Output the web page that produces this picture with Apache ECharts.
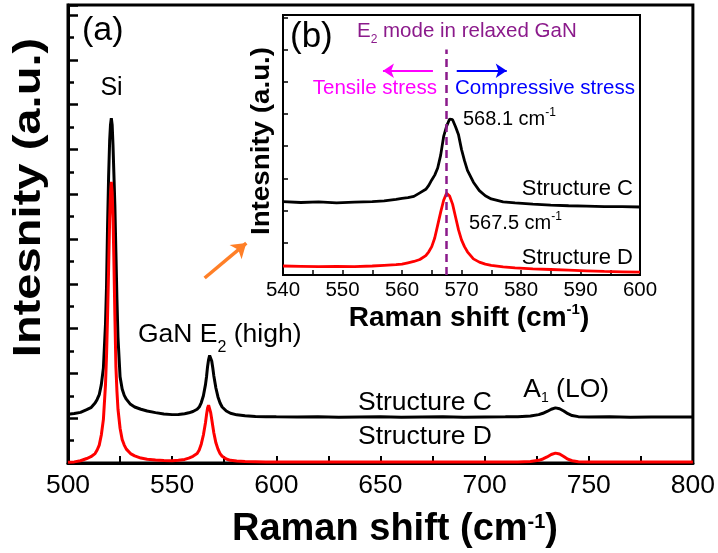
<!DOCTYPE html>
<html>
<head>
<meta charset="utf-8">
<script src="https://cdn.jsdelivr.net/npm/echarts/dist/echarts.min.js"></script>
<style>
  html, body { margin: 0; padding: 0; background: #fff; }
  #chart { width: 718px; height: 553px; }
</style>
</head>
<body>
<div id="chart"></div>
<script>
// ---------- panel (a): full Raman spectra ----------
const shiftA = [
  500, 503, 506, 509, 511, 513, 514, 515, 516, 517,
  518, 518.5, 519, 519.5, 520, 520.4, 520.8, 521.2, 521.6, 522,
  522.5, 523, 523.5, 524, 525, 526, 527, 528, 530, 532,
  535, 538, 542, 546, 550, 553, 556, 558, 560, 562,
  563, 564, 565, 566, 566.5, 567, 567.5, 568, 568.5, 569,
  569.5, 570, 571, 572, 573, 574, 576, 578, 581, 585,
  590, 595, 600, 610, 620, 630, 640, 650, 660, 670,
  680, 690, 700, 710, 716, 722, 726, 728, 730, 732,
  734, 736, 738, 740, 742, 745, 750, 760, 770, 780,
  790, 800
];
const structCA = [
  2.18, 2.21, 2.26, 2.38, 2.47, 2.68, 2.84, 3.05, 3.50, 4.25,
  6.20, 7.90, 10.6, 12.8, 14.4, 15.1, 15.4, 15.1, 14.2, 13.0,
  11.5, 9.4, 7.3, 5.6, 3.85, 3.30, 3.02, 2.85, 2.62, 2.50,
  2.40, 2.32, 2.25, 2.19, 2.16, 2.17, 2.20, 2.24, 2.30, 2.40,
  2.50, 2.70, 3.00, 3.50, 3.85, 4.30, 4.62, 4.80, 4.75, 4.55,
  4.25, 3.90, 3.35, 2.95, 2.68, 2.50, 2.32, 2.22, 2.15, 2.11,
  2.08, 2.07, 2.06, 2.05, 2.06, 2.04, 2.05, 2.06, 2.04, 2.05,
  2.06, 2.04, 2.05, 2.06, 2.07, 2.10, 2.16, 2.22, 2.30, 2.40,
  2.46, 2.42, 2.32, 2.20, 2.12, 2.07, 2.05, 2.06, 2.04, 2.05,
  2.05, 2.05
];
const structDA = [
  0.03, 0.05, 0.10, 0.20, 0.28, 0.42, 0.58, 0.80, 1.25, 1.95,
  3.50, 4.80, 6.60, 8.70, 10.9, 12.0, 12.55, 12.1, 11.0, 9.2,
  6.6, 4.3, 3.2, 2.4, 1.55, 1.05, 0.80, 0.62, 0.42, 0.32,
  0.22, 0.17, 0.13, 0.11, 0.10, 0.12, 0.16, 0.22, 0.30, 0.42,
  0.58, 0.85, 1.25, 1.80, 2.15, 2.45, 2.58, 2.50, 2.25, 1.95,
  1.65, 1.35, 0.90, 0.62, 0.42, 0.30, 0.18, 0.12, 0.09, 0.07,
  0.06, 0.05, 0.05, 0.04, 0.05, 0.04, 0.05, 0.04, 0.05, 0.04,
  0.05, 0.05, 0.04, 0.05, 0.05, 0.07, 0.12, 0.18, 0.27, 0.38,
  0.44, 0.40, 0.29, 0.17, 0.10, 0.06, 0.05, 0.04, 0.05, 0.04,
  0.05, 0.04
];
const ticksA = [500, 550, 600, 650, 700, 750, 800];
const intensityMaxA = 20.45;

// ---------- panel (b): zoom on the GaN E2(high) mode ----------
const shiftB = [
  540, 543, 546, 549, 552, 555, 557, 559, 560, 561,
  562, 563, 564, 564.5, 565, 565.5, 566, 566.5, 567, 567.5,
  568, 568.1, 568.5, 569, 569.5, 570, 570.5, 571, 572, 573,
  574, 575, 577, 579, 582, 585, 588, 591, 594, 597,
  600
];
const structCB = [
  2.28, 2.25, 2.27, 2.24, 2.26, 2.28, 2.30, 2.35, 2.38, 2.40,
  2.44, 2.55, 2.66, 2.78, 2.95, 3.10, 3.32, 3.72, 4.30, 4.62,
  4.84, 4.87, 4.82, 4.60, 4.35, 3.90, 3.55, 3.25, 2.88, 2.62,
  2.46, 2.36, 2.27, 2.24, 2.20, 2.17, 2.15, 2.14, 2.12, 2.12,
  2.11
];
const structDB = [
  0.28, 0.27, 0.26, 0.27, 0.26, 0.28, 0.30, 0.32, 0.34, 0.38,
  0.42, 0.48, 0.60, 0.72, 0.88, 1.15, 1.55, 1.95, 2.32, 2.54,
  2.45, 2.41, 2.20, 1.80, 1.40, 1.09, 0.88, 0.72, 0.50, 0.40,
  0.34, 0.30, 0.25, 0.22, 0.19, 0.17, 0.15, 0.13, 0.11, 0.10,
  0.09
];
const ticksB = [540, 550, 560, 570, 580, 590, 600];
const intensityMaxB = 8.07;

// reference position of the relaxed-GaN E2 mode and annotation anchors
const relaxedE2 = 567.5;
const relaxedLineTop = 7.0;
const tensileArrow = [[565.2, 6.34], [556.8, 6.34]];
const compressiveArrow = [[569.2, 6.34], [577.6, 6.34]];
const zoomArrow = [[565.6, 8.26], [585.6, 9.82]];

const FONT = '"Liberation Sans", Arial, Helvetica, sans-serif';
const toPairs = (xs, ys) => xs.map((x, i) => [x, ys[i]]);

// ---------- text helpers (runs of text with sub/superscripts) ----------
const measureCtx = document.createElement('canvas').getContext('2d');
function textWidth(str, size, weight) {
  measureCtx.font = weight + ' ' + size + 'px ' + FONT;
  return measureCtx.measureText(str).width;
}
function label(x, yc, align, parts, color, weight) {
  weight = weight || 'normal';
  const widths = parts.map(p => textWidth(p[0], p[1], weight));
  const total = widths.reduce((a, b) => a + b, 0);
  let cx = align === 'left' ? x : (align === 'right' ? x - total : x - total / 2);
  const children = parts.map((p, i) => {
    const el = {
      type: 'text', x: cx, y: yc + (p[2] || 0),
      style: {
        text: p[0], fontSize: p[1], fontFamily: FONT, fontWeight: weight,
        fill: color, textAlign: 'left', textVerticalAlign: 'middle', verticalAlign: 'middle'
      }
    };
    cx += widths[i];
    return el;
  });
  return { type: 'group', silent: true, children: children };
}
function verticalTitle(x, y, text, size, stretch) {
  return {
    type: 'text', x: x, y: y, rotation: Math.PI / 2, scaleX: stretch, silent: true,
    style: {
      text: text, fontSize: size, fontFamily: FONT, fontWeight: 'bold', fill: '#000',
      textAlign: 'center', textVerticalAlign: 'middle', verticalAlign: 'middle'
    }
  };
}

const black = '#000000';
const red = '#ff0000';
const purple = '#8b1a8b';

const texts = [
  label(82, 31, 'left', [['(a)', 34]], black),
  label(111.5, 88.3, 'center', [['Si', 25]], black),
  label(138, 334.4, 'left', [['GaN E', 26.5], ['2', 16, 13.4], [' (high)', 26.5]], black),
  label(492, 402.6, 'right', [['Structure C', 26.5]], black),
  label(492, 436.9, 'right', [['Structure D', 26.5]], black),
  label(523.3, 389.4, 'left', [['A', 26.5], ['1', 14, 9], [' (LO)', 26.5]], black),
  label(395, 529.8, 'center', [['Raman shift (cm', 38], ['-1', 20, -7.4], [')', 38]], black, 'bold'),
  verticalTitle(30, 197.5, 'Intesnity (a.u.)', 38, 1.24),

  label(290, 37.5, 'left', [['(b)', 35]], black),
  label(357, 31.4, 'left', [['E', 20.5], ['2', 12, 8.6], [' mode in relaxed GaN', 20.5]], purple),
  label(437, 88.1, 'right', [['Tensile stress', 20.5]], '#ff00ff'),
  label(455, 88.1, 'left', [['Compressive stress', 20.5]], '#0000ff'),
  label(463, 119.8, 'left', [['568.1 cm', 20], ['-1', 12, -6.9]], black),
  label(469, 223.1, 'left', [['567.5 cm', 20], ['-1', 12, -6.9]], black),
  label(633, 188.7, 'right', [['Structure C', 22]], black),
  label(633, 257.7, 'right', [['Structure D', 22]], black),
  label(469, 318.3, 'center', [['Raman shift (cm', 28], ['-1', 15, -8.8], [')', 28]], black, 'bold'),
  verticalTitle(262, 141, 'Intesnity (a.u.)', 25, 1.11)
];

const axisLine = w => ({ show: true, onZero: false, lineStyle: { color: '#000', width: w } });

const option = {
  animation: false,
  backgroundColor: '#fff',
  grid: [
    { left: 68, top: 5, width: 627, height: 458, show: true, borderColor: '#000', borderWidth: 3, backgroundColor: 'transparent' },
    { left: 283, top: 15, width: 357, height: 260, show: true, borderColor: '#000', borderWidth: 2, backgroundColor: '#fff' }
  ],
  xAxis: [
    {
      gridIndex: 0, type: 'value',
      min: ticksA[0], max: ticksA[ticksA.length - 1], interval: ticksA[1] - ticksA[0],
      axisLine: axisLine(3),
      axisTick: { show: true, inside: true, length: 7, lineStyle: { color: '#000', width: 2 } },
      minorTick: { show: true, splitNumber: 2, length: 7, lineStyle: { color: '#000', width: 2 } },
      axisLabel: { show: true, margin: 9, fontSize: 26.5, color: '#000', fontFamily: FONT },
      splitLine: { show: false }, minorSplitLine: { show: false }
    },
    {
      gridIndex: 1, type: 'value',
      min: ticksB[0], max: ticksB[ticksB.length - 1], interval: ticksB[1] - ticksB[0],
      axisLine: axisLine(2),
      axisTick: { show: true, inside: true, length: 5, lineStyle: { color: '#000', width: 1.5 } },
      minorTick: { show: true, splitNumber: 2, length: 5, lineStyle: { color: '#000', width: 1.5 } },
      axisLabel: { show: true, margin: 5, fontSize: 20.5, color: '#000', fontFamily: FONT },
      splitLine: { show: false }, minorSplitLine: { show: false }
    }
  ],
  yAxis: [
    {
      gridIndex: 0, type: 'value', min: 0, max: intensityMaxA, interval: 2,
      axisLine: axisLine(3),
      axisTick: { show: true, inside: true, length: 10, lineStyle: { color: '#000', width: 2.5 } },
      axisLabel: { show: false }, splitLine: { show: false }
    },
    {
      gridIndex: 0, type: 'value', min: 0, max: intensityMaxA, interval: 1, position: 'left',
      axisLine: { show: false },
      axisTick: { show: true, inside: true, length: 6, lineStyle: { color: '#000', width: 2.5 } },
      axisLabel: { show: false }, splitLine: { show: false }
    },
    {
      gridIndex: 1, type: 'value', min: 0, max: intensityMaxB, interval: 1,
      axisLine: axisLine(2),
      axisTick: { show: true, inside: true, length: 5, lineStyle: { color: '#000', width: 1.5 } },
      axisLabel: { show: false }, splitLine: { show: false }
    }
  ],
  series: [
    {
      name: 'Structure C', type: 'line', xAxisIndex: 0, yAxisIndex: 0, silent: true,
      data: toPairs(shiftA, structCA), showSymbol: false, symbol: 'none',
      lineStyle: { color: black, width: 3 }, z: 2,
      markLine: {
        silent: true, animation: false, symbol: ['none', 'arrow'], symbolSize: 14,
        label: { show: false },
        lineStyle: { color: '#ff7f27', width: 3.5, type: 'solid' },
        data: [[{ coord: zoomArrow[0] }, { coord: zoomArrow[1] }]]
      }
    },
    {
      name: 'Structure D', type: 'line', xAxisIndex: 0, yAxisIndex: 0, silent: true,
      data: toPairs(shiftA, structDA), showSymbol: false, symbol: 'none',
      lineStyle: { color: red, width: 3 }, z: 3
    },
    {
      name: 'Structure C (E2)', type: 'line', xAxisIndex: 1, yAxisIndex: 2, silent: true,
      data: toPairs(shiftB, structCB), showSymbol: false, symbol: 'none',
      lineStyle: { color: black, width: 2.8 }, z: 2,
      markLine: {
        silent: true, animation: false, symbol: ['none', 'arrow'], symbolSize: 11,
        label: { show: false },
        lineStyle: { width: 2, type: 'solid' },
        data: [
          [{ coord: tensileArrow[0], lineStyle: { color: '#ff00ff' }, itemStyle: { color: '#ff00ff' } },
           { coord: tensileArrow[1], itemStyle: { color: '#ff00ff' } }],
          [{ coord: compressiveArrow[0], lineStyle: { color: '#0000ff' }, itemStyle: { color: '#0000ff' } },
           { coord: compressiveArrow[1], itemStyle: { color: '#0000ff' } }]
        ]
      }
    },
    {
      name: 'Structure D (E2)', type: 'line', xAxisIndex: 1, yAxisIndex: 2, silent: true,
      data: toPairs(shiftB, structDB), showSymbol: false, symbol: 'none',
      lineStyle: { color: red, width: 2.8 }, z: 3,
      markLine: {
        silent: true, animation: false, symbol: ['none', 'none'], z: 6,
        label: { show: false },
        lineStyle: { color: purple, width: 2.5, type: [8, 5] },
        data: [[{ coord: [relaxedE2, 0] }, { coord: [relaxedE2, relaxedLineTop] }]]
      }
    }
  ],
  graphic: { elements: texts }
};

const chart = echarts.init(document.getElementById('chart'), null, { renderer: 'canvas' });
chart.setOption(option);
</script>
</body>
</html>
